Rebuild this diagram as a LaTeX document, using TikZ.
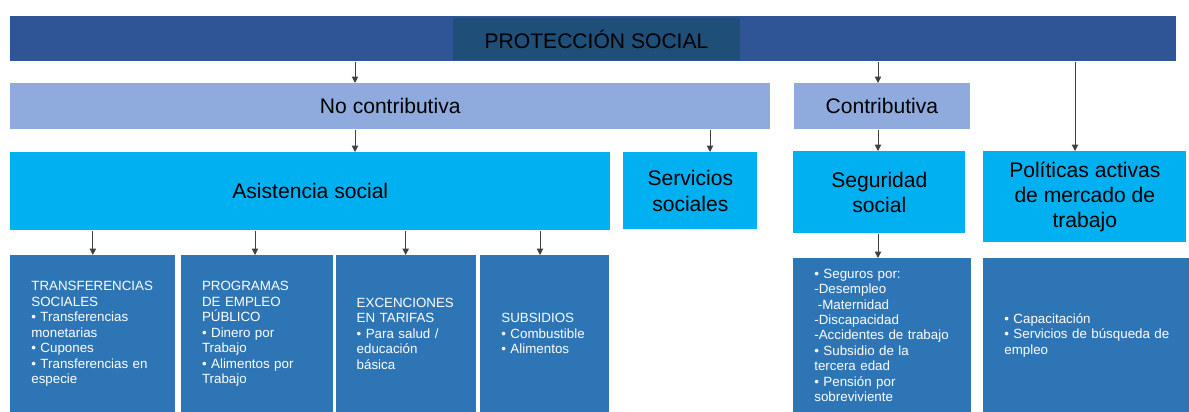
\documentclass[tikz,border=0pt]{standalone}
\usepackage{fontspec}
\setmainfont{Liberation Sans}
\usetikzlibrary{positioning,arrows.meta}
\definecolor{azulosc}{RGB}{47,85,151}
\definecolor{azultit}{RGB}{31,78,121}
\definecolor{azulcla}{RGB}{143,170,220}
\definecolor{cian}{RGB}{0,176,240}
\definecolor{azulmed}{RGB}{46,117,182}
\tikzset{
  nivel/.style={fill=azulcla, anchor=north west, minimum height=0.92cm, inner sep=0,
    font=\fontsize{12}{14.4}\selectfont},
  rama/.style={fill=cian, anchor=north west, align=center, inner sep=0,
    font=\fontsize{12}{14.4}\selectfont},
  hoja/.style={fill=azulmed, text=white, anchor=north west, align=left,
    inner xsep=0.42cm, inner ysep=0, font=\fontsize{7.6}{8.8}\selectfont},
  flecha/.style={-{Triangle[length=3.6pt,width=3.6pt]}, draw=black!75, line width=0.5pt}
}
\begin{document}
\begin{tikzpicture}[x=0.02cm, y=-0.02cm]
        \useasboundingbox (0,0) rectangle (1189,412);
        % Barra superior
        \node[fill=azulosc, anchor=north west, minimum width=23.32cm, minimum height=0.9cm, inner sep=0] (prot) at (10,16) {};
        \node[fill=azultit, minimum width=5.74cm, minimum height=0.84cm, inner sep=0,
          font=\fontsize{12}{14.4}\selectfont] (tit) at (596.5,39) {PROTECCIÓN SOCIAL};
        % Tipos de protección
        \node[nivel, minimum width=15.2cm] (noc) at (10,83) {No contributiva};
        \node[nivel, minimum width=3.52cm, right=0.46cm of noc.north east, anchor=north west] (con) {Contributiva};
        % Programas
        \node[rama, minimum width=12cm, minimum height=1.56cm] (asis) at (10,152) {Asistencia social};
        \node[rama, minimum width=2.68cm, minimum height=1.54cm] (serv) at (623,152) {Servicios\\sociales};
        \node[rama, minimum width=3.44cm, minimum height=1.64cm] (seg) at (793,151) {Seguridad\\social};
        \node[rama, minimum width=4.06cm, minimum height=1.82cm] (pol) at (983,151) {Políticas activas\\de mercado de\\trabajo};
        % Detalle de cada programa
        \node[hoja, text width=2.46cm, minimum height=3.14cm] (trans) at (10,255)
          {TRANSFERENCIAS\\SOCIALES\\• Transferencias\\monetarias\\• Cupones\\• Transferencias en\\especie};
        \node[hoja, text width=2.2cm, minimum height=3.14cm, right=0.1cm of trans.north east, anchor=north west] (prog)
          {PROGRAMAS\\DE EMPLEO\\PÚBLICO\\• Dinero por\\Trabajo\\• Alimentos por\\Trabajo};
        \node[hoja, text width=1.96cm, minimum height=3.14cm, right=0.04cm of prog.north east, anchor=north west] (exc)
          {EXCENCIONES\\EN TARIFAS\\• Para salud /\\educación\\básica};
        \node[hoja, text width=1.74cm, minimum height=3.14cm, right=0.08cm of exc.north east, anchor=north west] (sub)
          {SUBSIDIOS\\• Combustible\\• Alimentos};
        \node[hoja, text width=2.72cm, minimum height=3.08cm] (segb) at (793,258)
          {• Seguros por:\\-Desempleo\\\hspace{2pt}-Maternidad\\-Discapacidad\\-Accidentes de trabajo\\• Subsidio de la\\tercera edad\\• Pensión por\\sobreviviente};
        \node[hoja, text width=3.5cm, minimum height=3.08cm] (cap) at (983,258)
          {• Capacitación\\• Servicios de búsqueda de\\empleo};
        % Conecta os nós
        \draw[flecha] (prot.south -| 355,0) -- (noc.north -| 355,0);
        \draw[flecha] (prot.south -| 878,0) -- (con.north -| 878,0);
        \draw[flecha] (prot.south -| 1075,0) -- (pol.north -| 1075,0);
        \draw[flecha] (noc.south -| 355,0) -- (asis.north -| 355,0);
        \draw[flecha] (noc.south -| 710,0) -- (serv.north -| 710,0);
        \draw[flecha] (con.south -| 878,0) -- (seg.north -| 878,0);
        \draw[flecha] (asis.south -| trans.north) -- (trans.north);
        \draw[flecha] (asis.south -| 255,0) -- (prog.north -| 255,0);
        \draw[flecha] (asis.south -| exc.north) -- (exc.north);
        \draw[flecha] (asis.south -| 540,0) -- (sub.north -| 540,0);
        \draw[flecha] (seg.south -| 878,0) -- (segb.north -| 878,0);
\end{tikzpicture}
\end{document}
